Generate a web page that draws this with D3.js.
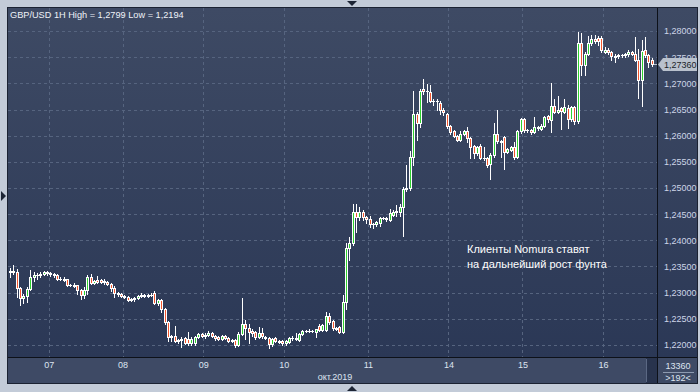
<!DOCTYPE html>
<html>
<head>
<meta charset="utf-8">
<script src="https://cdn.jsdelivr.net/npm/d3@7"></script>
<style>
  body { margin: 0; background: #c3cbd8; }
  svg { display: block; font-family: "Liberation Sans", Arial, sans-serif; }
</style>
</head>
<body>
<script>
// GBP/USD hourly candles, 4-16 Oct 2019
var open = [
  1.2340,1.2342,1.2340,1.2308,1.2290,1.2293,1.2307,1.2330,1.2334,1.2333,1.2335,1.2339,
  1.2338,1.2335,1.2333,1.2327,1.2327,1.2326,1.2315,1.2315,1.2314,1.2305,1.2296,1.2306,1.2330,1.2319,1.2325,1.2324,1.2321,1.2321,1.2316,1.2309,1.2300,1.2297,
  1.2294,1.2292,1.2286,1.2288,1.2289,1.2294,1.2295,1.2294,1.2295,1.2299,1.2280,1.2286,1.2268,1.2243,1.2216,1.2218,1.2207,1.2210,1.2213,1.2212,1.2203,1.2204,1.2215,1.2221,
  1.2217,1.2219,1.2222,1.2218,1.2216,1.2211,1.2217,1.2214,1.2208,1.2210,1.2200,1.2221,1.2240,1.2232,1.2227,1.2224,1.2216,1.2223,1.2216,1.2214,1.2202,1.2213,1.2208,1.2208,
  1.2203,1.2206,1.2214,1.2213,1.2210,1.2221,1.2227,1.2227,1.2226,1.2225,1.2237,1.2229,1.2228,1.2256,1.2245,1.2232,1.2235,1.2225,1.2283,1.2385,1.2395,1.2455,1.2444,1.2455,
  1.2445,1.2440,1.2431,1.2431,1.2434,1.2442,1.2442,1.2439,1.2449,1.2455,1.2455,1.2463,1.2499,1.2500,1.2559,1.2642,1.2624,1.2689,1.2685,1.2683,1.2667,1.2667,1.2663,1.2650,
  1.2642,1.2618,1.2608,1.2600,1.2592,1.2604,1.2608,1.2595,1.2580,1.2566,1.2580,1.2557,1.2557,1.2546,1.2563,1.2603,1.2589,1.2597,1.2569,1.2573,1.2578,1.2559,1.2608,
  1.2631,1.2610,1.2611,1.2607,1.2616,1.2612,1.2618,1.2637,1.2629,1.2656,1.2646,1.2652,1.2646,1.2652,1.2631,1.2654,1.2628,1.2777,1.2735,1.2757,1.2777,1.2785,1.2786,
  1.2787,1.2760,1.2764,1.2759,1.2752,1.2753,1.2755,1.2754,1.2756,1.2759,1.2757,1.2744,1.2706,1.2764,1.2754,1.2745
];
var high = [
  1.2347,1.2352,1.2345,1.2310,1.2298,1.2310,1.2344,1.2340,1.2338,1.2340,1.2341,1.2341,
  1.2340,1.2338,1.2336,1.2330,1.2330,1.2327,1.2317,1.2318,1.2315,1.2307,1.2310,1.2333,1.2335,1.2324,1.2332,1.2327,1.2326,1.2323,1.2318,1.2312,1.2302,1.2299,
  1.2296,1.2294,1.2290,1.2291,1.2296,1.2300,1.2298,1.2297,1.2300,1.2304,1.2288,1.2288,1.2270,1.2245,1.2220,1.2236,1.2212,1.2216,1.2215,1.2225,1.2215,1.2217,1.2223,1.2222,
  1.2222,1.2226,1.2225,1.2220,1.2218,1.2219,1.2219,1.2216,1.2212,1.2212,1.2224,1.2289,1.2248,1.2241,1.2230,1.2226,1.2235,1.2232,1.2218,1.2216,1.2214,1.2215,1.2210,1.2210,
  1.2210,1.2216,1.2217,1.2222,1.2223,1.2229,1.2229,1.2230,1.2229,1.2230,1.2241,1.2240,1.2264,1.2262,1.2247,1.2235,1.2237,1.2296,1.2394,1.2406,1.2469,1.2469,1.2463,1.2458,
  1.2447,1.2447,1.2434,1.2437,1.2444,1.2445,1.2444,1.2459,1.2458,1.2468,1.2469,1.2502,1.2544,1.2570,1.2686,1.2645,1.2690,1.2708,1.2699,1.2697,1.2671,1.2670,1.2666,1.2653,
  1.2644,1.2620,1.2610,1.2602,1.2609,1.2610,1.2617,1.2597,1.2582,1.2581,1.2584,1.2578,1.2560,1.2566,1.2624,1.2650,1.2592,1.2600,1.2577,1.2580,1.2587,1.2610,1.2634,
  1.2634,1.2613,1.2613,1.2636,1.2618,1.2623,1.2638,1.2639,1.2701,1.2671,1.2676,1.2655,1.2670,1.2659,1.2657,1.2656,1.2799,1.2797,1.2760,1.2790,1.2792,1.2792,1.2790,
  1.2790,1.2770,1.2767,1.2762,1.2757,1.2757,1.2757,1.2758,1.2763,1.2762,1.2788,1.2765,1.2783,1.2788,1.2757,1.2748
];
var low = [
  1.2330,1.2336,1.2292,1.2276,1.2280,1.2283,1.2305,1.2322,1.2326,1.2330,1.2333,1.2334,
  1.2331,1.2330,1.2325,1.2324,1.2322,1.2313,1.2312,1.2311,1.2298,1.2288,1.2290,1.2298,1.2316,1.2316,1.2318,1.2318,1.2316,1.2314,1.2304,1.2292,1.2294,1.2291,
  1.2289,1.2284,1.2284,1.2285,1.2287,1.2292,1.2292,1.2292,1.2293,1.2278,1.2277,1.2264,1.2240,1.2208,1.2208,1.2205,1.2204,1.2197,1.2201,1.2200,1.2200,1.2200,1.2213,1.2215,
  1.2214,1.2217,1.2215,1.2210,1.2209,1.2209,1.2212,1.2206,1.2205,1.2196,1.2198,1.2219,1.2211,1.2204,1.2218,1.2212,1.2213,1.2214,1.2211,1.2194,1.2199,1.2206,1.2203,1.2200,
  1.2200,1.2204,1.2210,1.2210,1.2208,1.2219,1.2224,1.2225,1.2224,1.2215,1.2226,1.2227,1.2226,1.2241,1.2229,1.2228,1.2222,1.2223,1.2268,1.2362,1.2392,1.2415,1.2439,1.2438,
  1.2433,1.2426,1.2423,1.2428,1.2427,1.2440,1.2437,1.2437,1.2447,1.2447,1.2447,1.2408,1.2494,1.2497,1.2544,1.2592,1.2616,1.2680,1.2665,1.2664,1.2658,1.2649,1.2641,1.2640,
  1.2615,1.2604,1.2598,1.2590,1.2590,1.2602,1.2587,1.2557,1.2557,1.2563,1.2555,1.2553,1.2540,1.2517,1.2560,1.2586,1.2560,1.2536,1.2566,1.2570,1.2556,1.2557,1.2606,
  1.2607,1.2607,1.2604,1.2605,1.2611,1.2610,1.2616,1.2627,1.2607,1.2644,1.2643,1.2612,1.2644,1.2614,1.2628,1.2622,1.2624,1.2716,1.2716,1.2754,1.2774,1.2778,1.2773,
  1.2759,1.2758,1.2757,1.2745,1.2740,1.2749,1.2750,1.2751,1.2752,1.2755,1.2742,1.2672,1.2657,1.2750,1.2732,1.2733
];
var close = [
  1.2342,1.2340,1.2308,1.2290,1.2293,1.2307,1.2330,1.2334,1.2333,1.2335,1.2339,1.2338,
  1.2335,1.2333,1.2327,1.2327,1.2324,1.2315,1.2315,1.2313,1.2305,1.2296,1.2306,1.2330,1.2319,1.2322,1.2321,1.2320,1.2322,1.2316,1.2308,1.2300,1.2297,1.2294,
  1.2292,1.2286,1.2288,1.2289,1.2294,1.2295,1.2294,1.2295,1.2296,1.2280,1.2286,1.2268,1.2243,1.2216,1.2217,1.2207,1.2210,1.2211,1.2203,1.2203,1.2212,1.2215,1.2221,1.2217,
  1.2219,1.2222,1.2217,1.2213,1.2211,1.2217,1.2214,1.2208,1.2209,1.2200,1.2221,1.2240,1.2232,1.2225,1.2222,1.2216,1.2222,1.2217,1.2213,1.2202,1.2211,1.2208,1.2206,1.2203,
  1.2207,1.2214,1.2213,1.2211,1.2221,1.2227,1.2227,1.2226,1.2227,1.2230,1.2229,1.2238,1.2255,1.2243,1.2232,1.2231,1.2225,1.2283,1.2385,1.2395,1.2454,1.2444,1.2455,1.2445,
  1.2440,1.2431,1.2432,1.2435,1.2442,1.2442,1.2440,1.2452,1.2455,1.2456,1.2464,1.2499,1.2500,1.2559,1.2642,1.2624,1.2686,1.2685,1.2686,1.2667,1.2667,1.2666,1.2650,1.2645,
  1.2618,1.2607,1.2600,1.2592,1.2604,1.2608,1.2595,1.2578,1.2566,1.2579,1.2557,1.2557,1.2544,1.2563,1.2603,1.2589,1.2588,1.2569,1.2574,1.2578,1.2559,1.2608,1.2631,
  1.2610,1.2611,1.2607,1.2616,1.2614,1.2618,1.2636,1.2631,1.2656,1.2646,1.2650,1.2648,1.2654,1.2631,1.2654,1.2628,1.2777,1.2735,1.2757,1.2777,1.2785,1.2781,1.2780,
  1.2763,1.2764,1.2760,1.2752,1.2751,1.2755,1.2754,1.2756,1.2759,1.2757,1.2744,1.2706,1.2762,1.2754,1.2741,1.2736
];

// day labels and the candle index where each day starts
var dayLabels = ["07", "08", "09", "10", "11", "14", "15", "16"];
var dayStart = [12, 34, 58, 82, 107, 131, 153, 177];

var priceTicks = [1.220, 1.225, 1.230, 1.235, 1.240, 1.245, 1.250,
                  1.255, 1.260, 1.265, 1.270, 1.275, 1.280];
var lastPrice = 1.27360;

var width = 700, height = 392;
var plot = { left: 8, top: 8, right: 657, bottom: 357 };

var svg = d3.select("body").append("svg")
    .attr("width", width)
    .attr("height", height);

// background gradient
var grad = svg.append("defs").append("linearGradient")
    .attr("id", "bg").attr("x1", 0).attr("y1", 0).attr("x2", 0).attr("y2", 1);
grad.append("stop").attr("offset", "0%").attr("stop-color", "#3e4a64");
grad.append("stop").attr("offset", "100%").attr("stop-color", "#2b3856");

svg.append("rect").attr("width", width).attr("height", height).attr("fill", "#c3cbd8");
svg.append("rect").attr("x", 7).attr("y", 7).attr("width", 691).attr("height", 377).attr("fill", "#1b2232");
svg.append("rect").attr("x", 8).attr("y", 8).attr("width", 689).attr("height", 349).attr("fill", "url(#bg)");
svg.append("rect").attr("x", 8).attr("y", 358).attr("width", 689).attr("height", 25).attr("fill", "#3e4a65");

// scales
var n = close.length;
var x = d3.scaleLinear().domain([0, n - 1]).range([10, 10 + 3.36 * (n - 1)]);
var y = d3.scaleLinear().domain([1.22, 1.28]).range([345, 31]);

// grid
var grid = svg.append("g").attr("shape-rendering", "crispEdges")
    .attr("stroke", "#56647f").attr("stroke-dasharray", "3,3");
grid.selectAll(".hg").data(priceTicks).enter().append("line")
    .attr("x1", plot.left).attr("x2", plot.right)
    .attr("y1", function (d) { return Math.round(y(d)) + 0.5; })
    .attr("y2", function (d) { return Math.round(y(d)) + 0.5; });
grid.selectAll(".vg").data(dayStart).enter().append("line")
    .attr("y1", plot.top).attr("y2", plot.bottom)
    .attr("x1", function (d) { return Math.round(x(d - 0.5)) + 0.5; })
    .attr("x2", function (d) { return Math.round(x(d - 0.5)) + 0.5; });

// candles
var candles = svg.append("g").attr("shape-rendering", "crispEdges");
d3.range(n).forEach(function (i) {
    var o = open[i], c = close[i];
    var cx = Math.round(x(i));
    var hi = Math.max(high[i], o, c), lo = Math.min(low[i], o, c);
    candles.append("line")
        .attr("x1", cx + 0.5).attr("x2", cx + 0.5)
        .attr("y1", Math.round(y(hi))).attr("y2", Math.round(y(lo)) + 1)
        .attr("stroke", "#ffffff");
    var top = Math.round(y(Math.max(o, c))), bot = Math.round(y(Math.min(o, c)));
    if (bot - top < 2) {
        candles.append("rect").attr("x", cx - 1).attr("y", top)
            .attr("width", 3).attr("height", Math.max(1, bot - top + 1)).attr("fill", "#ffffff");
    } else {
        candles.append("rect").attr("x", cx - 1).attr("y", top)
            .attr("width", 3).attr("height", bot - top + 1).attr("fill", "#ffffff");
        candles.append("rect").attr("x", cx).attr("y", top + 1)
            .attr("width", 1).attr("height", bot - top - 1)
            .attr("fill", c > o ? "#2fd12f" : "#f2562e");
    }
});

// frame lines
svg.append("line").attr("x1", 657.5).attr("x2", 657.5).attr("y1", 8).attr("y2", 383)
    .attr("stroke", "#0d1119");
svg.append("line").attr("x1", 8).attr("x2", 697).attr("y1", 357.5).attr("y2", 357.5)
    .attr("stroke", "#0d1119");

// right price axis
var fmt = function (d) { return d3.format(".5f")(d).replace(".", ","); };
var yAxis = svg.append("g")
    .attr("transform", "translate(658,0)")
    .call(d3.axisRight(y).tickValues(priceTicks).tickSize(0).tickPadding(6).tickFormat(fmt));
yAxis.select(".domain").remove();
yAxis.selectAll("text").attr("fill", "#cdd6e8").style("font-size", "9px")
    .style("font-family", "'Liberation Sans', Arial, sans-serif");

// bottom date axis
var xAxis = svg.append("g")
    .attr("transform", "translate(0,358)")
    .call(d3.axisBottom(x).tickValues(dayStart.map(function (d) { return d - 0.5; }))
        .tickSize(0).tickPadding(4)
        .tickFormat(function (d, i) { return dayLabels[i]; }));
xAxis.select(".domain").remove();
xAxis.selectAll("text").attr("fill", "#dde4f0").style("font-size", "9px")
    .style("font-family", "'Liberation Sans', Arial, sans-serif");

svg.append("text").attr("x", 335).attr("y", 380).attr("text-anchor", "middle")
    .attr("fill", "#dde4f0").style("font-size", "9px").text("окт.2019");

// bottom right counter box
svg.append("rect").attr("x", 646).attr("y", 358).attr("width", 11).attr("height", 25).attr("fill", "#28334d");
svg.append("line").attr("x1", 646.5).attr("x2", 646.5).attr("y1", 359).attr("y2", 382).attr("stroke", "#5b6883");
svg.append("text").attr("x", 678).attr("y", 369).attr("text-anchor", "middle")
    .attr("fill", "#dde4f0").style("font-size", "9px").text("13360");
svg.append("line").attr("x1", 663).attr("x2", 694).attr("y1", 372.5).attr("y2", 372.5).attr("stroke", "#8d9ab0");
svg.append("text").attr("x", 678).attr("y", 381).attr("text-anchor", "middle")
    .attr("fill", "#dde4f0").style("font-size", "9px").text(">192<");

// last price marker
var ly = Math.round(y(lastPrice)) + 0.5;
svg.append("line").attr("x1", 654).attr("x2", 657).attr("y1", ly).attr("y2", ly).attr("stroke", "#b9c1cd");
svg.append("path")
    .attr("d", "M658," + ly + " L663," + (ly - 6.5) + " L697," + (ly - 6.5) + " L697," + (ly + 6.5) + " L663," + (ly + 6.5) + " Z")
    .attr("fill", "#b9c1cd");
svg.append("text").attr("x", 664).attr("y", ly + 3.5)
    .attr("fill", "#1a1f29").style("font-size", "9px").text(fmt(lastPrice));

// title
svg.append("text").attr("x", 10).attr("y", 18)
    .attr("fill", "#eef2f8").style("font-size", "9.2px")
    .text("GBP/USD 1H High = 1,2799 Low = 1,2194");

// annotation
var note = svg.append("text").attr("fill", "#ffffff").style("font-size", "11px");
note.append("tspan").attr("x", 467).attr("y", 253).text("Клиенты Nomura ставят");
note.append("tspan").attr("x", 467).attr("y", 268).text("на дальнейший рост фунта");

// frame arrows
svg.append("path").attr("d", "M347,1 L357,1 L352,6 Z").attr("fill", "#1d2535");
svg.append("path").attr("d", "M347,391 L357,391 L352,386 Z").attr("fill", "#1d2535");
svg.append("path").attr("d", "M1,191 L6,196 L1,201 Z").attr("fill", "#1d2535");
</script>
</body>
</html>
